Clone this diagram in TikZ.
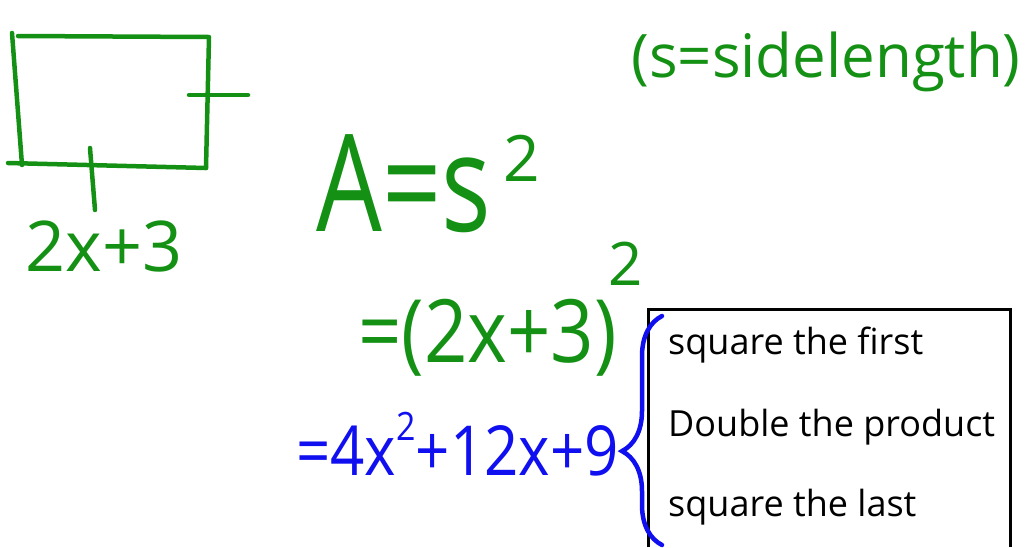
\documentclass[tikz,border=0pt]{standalone}
\usepackage{fontspec}
\setmainfont{Open Sans}
\usetikzlibrary{decorations.pathreplacing}
\definecolor{pen}{RGB}{20, 145, 20}
\definecolor{ink}{RGB}{15, 15, 240}
\tikzset{
  hand/.style={font=\fontsize{#1}{#1}\selectfont, inner sep=0pt},
  stroke/.style={line width=4.5pt, line cap=round, line join=round}
}

\begin{document}
\begin{tikzpicture}[x=1pt, y=-1pt]
  \useasboundingbox (0,0) rectangle (1028,547);

  % the square, drawn by hand
  \draw[stroke, pen] (12,33) -- (22,165);
  \draw[stroke, pen] (18,36) -- (209,37) -- (206,168);
  \draw[stroke, pen] (8,163) -- (206,168);
  \draw[stroke, pen] (189,95) -- (248,95);
  \draw[stroke, pen] (90,148) -- (95,210);
  \node[hand=70, pen] (side) at (104,246) {2x+3};

  \node[hand=60, pen] (note) at (826,62) {(s=sidelength)};

  % working
  \node[hand=104, pen, anchor=west] (area) at (316,184) {\scalebox{1}[1.3]{A=s}};
  \node[hand=64, pen] (areasq) at (522,158) {2};
  \node[hand=76, pen, anchor=west] (square) at (358,338) {\scalebox{1}[1.15]{=(2x+3)}};
  \node[hand=60, pen] (squaresq) at (626,264) {2};
  \node[hand=60, ink, anchor=west] (expand) at (296,444)
    {\scalebox{1}[1.15]{=4x\raisebox{0.5em}{\fontsize{34}{34}\selectfont 2}+12x+9}};

  % rule box
  \draw[line width=3pt] (648,547) -- (648,309) -- (1010,309) -- (1010,547);
  \node[hand=36, anchor=west] (first) at (668,345) {square the first};
  \node[hand=36, anchor=west] (double) at (668,427) {Double the product};
  \node[hand=36, anchor=west] (last) at (668,507) {square the last};

  \coordinate (bracetop) at (662,316);
  \coordinate (bracebot) at (662,545);
  \draw[ink, line width=4.5pt, line cap=round, decorate,
        decoration={brace, amplitude=40pt, aspect=0.41}] (bracebot) -- (bracetop);
\end{tikzpicture}
\end{document}
